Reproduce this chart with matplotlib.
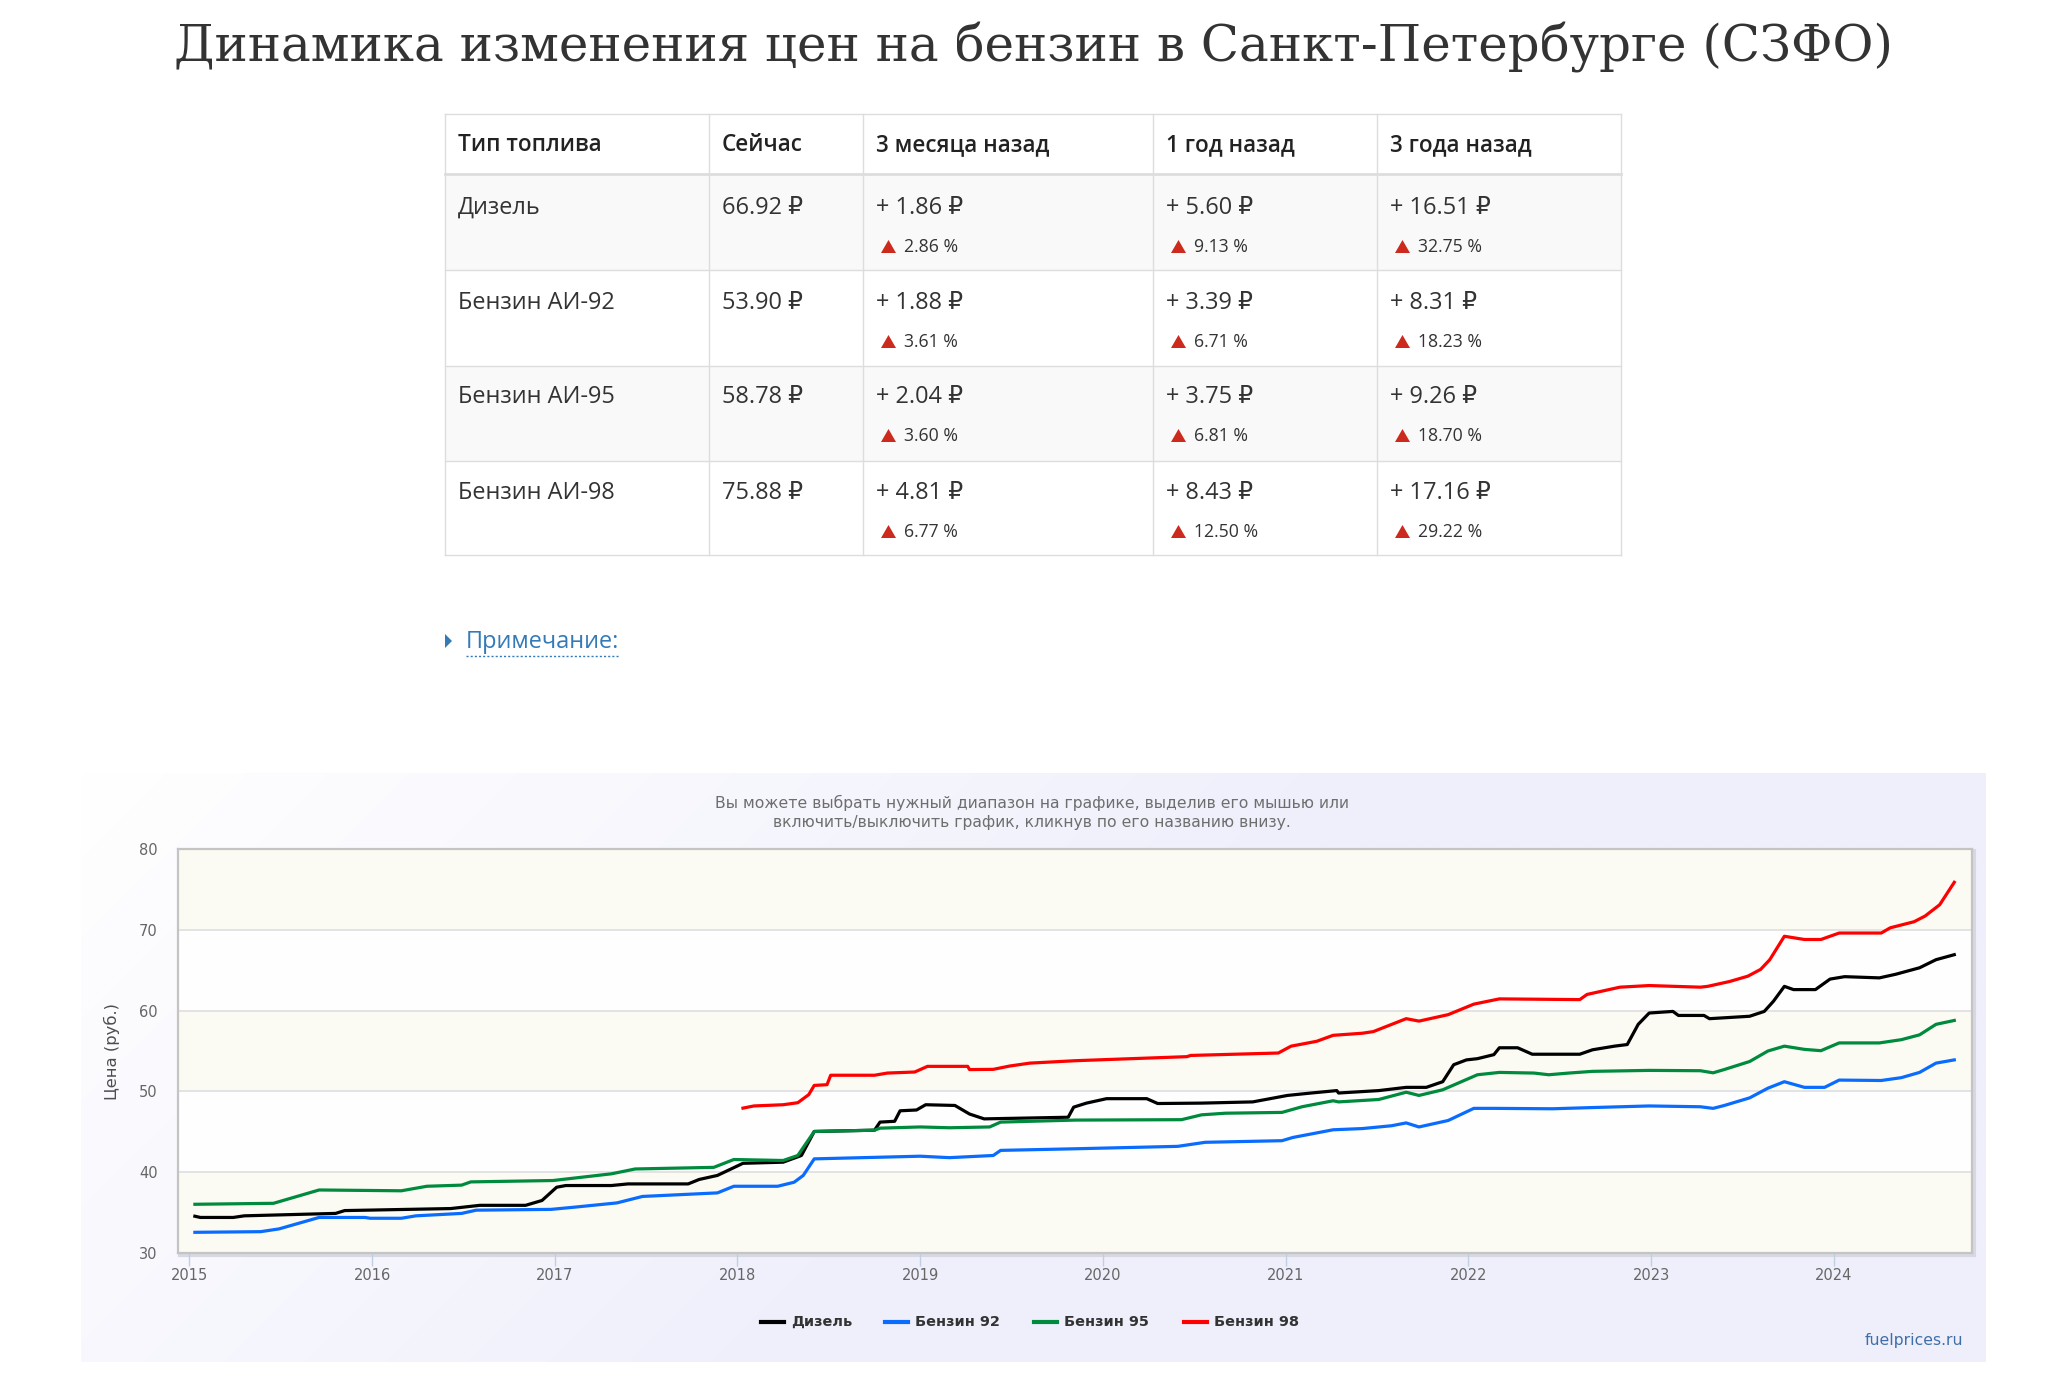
import numpy as np
import matplotlib
matplotlib.use("Agg")
import matplotlib.pyplot as plt
from matplotlib.patches import Rectangle, Polygon
from matplotlib.lines import Line2D

# ---------------- data ----------------
title = "Динамика изменения цен на бензин в Санкт-Петербурге (СЗФО)"
table_header = ["Тип топлива", "Сейчас", "3 месяца назад", "1 год назад", "3 года назад"]
fuel_types = ["Дизель", "Бензин АИ-92", "Бензин АИ-95", "Бензин АИ-98"]
price_now = [66.92, 53.90, 58.78, 75.88]
delta_3m = [1.86, 1.88, 2.04, 4.81]
pct_3m = [2.86, 3.61, 3.60, 6.77]
delta_1y = [5.60, 3.39, 3.75, 8.43]
pct_1y = [9.13, 6.71, 6.81, 12.50]
delta_3y = [16.51, 8.31, 9.26, 17.16]
pct_3y = [32.75, 18.23, 18.70, 29.22]
note_text = "Примечание:"

chart_subtitle = ["Вы можете выбрать нужный диапазон на графике, выделив его мышью или",
                  "включить/выключить график, кликнув по его названию внизу."]
y_title = "Цена (руб.)"
year_ticks = [2015, 2016, 2017, 2018, 2019, 2020, 2021, 2022, 2023, 2024]
y_ticks = [30, 40, 50, 60, 70, 80]
series_names = ["Дизель", "Бензин 92", "Бензин 95", "Бензин 98"]
credits = "fuelprices.ru"

diesel = [(2015.03, 34.55), (2015.06, 34.4), (2015.24, 34.4), (2015.30, 34.6), (2015.80, 34.9),
          (2015.85, 35.25), (2016.43, 35.5), (2016.59, 35.9), (2016.84, 35.9), (2016.93, 36.5),
          (2017.01, 38.14), (2017.06, 38.35), (2017.31, 38.35), (2017.40, 38.55), (2017.73, 38.55),
          (2017.79, 39.1), (2017.89, 39.6), (2018.03, 41.1), (2018.25, 41.24), (2018.35, 42.07),
          (2018.42, 45.04), (2018.75, 45.2), (2018.78, 46.2), (2018.86, 46.3), (2018.89, 47.6),
          (2018.98, 47.7), (2019.03, 48.35), (2019.19, 48.26), (2019.27, 47.2), (2019.35, 46.6),
          (2019.81, 46.8), (2019.84, 48.05), (2019.91, 48.55), (2020.02, 49.1), (2020.24, 49.1),
          (2020.30, 48.5), (2020.54, 48.55), (2020.82, 48.7), (2021.01, 49.5), (2021.14, 49.8),
          (2021.28, 50.1), (2021.29, 49.8), (2021.51, 50.1), (2021.66, 50.5), (2021.77, 50.5),
          (2021.86, 51.2), (2021.92, 53.3), (2021.99, 53.9), (2022.05, 54.05), (2022.14, 54.55),
          (2022.17, 55.4), (2022.27, 55.4), (2022.35, 54.6), (2022.61, 54.6), (2022.68, 55.15),
          (2022.80, 55.6), (2022.87, 55.8), (2022.93, 58.3), (2022.99, 59.7), (2023.12, 59.9),
          (2023.15, 59.4), (2023.29, 59.4), (2023.32, 59.0), (2023.54, 59.3), (2023.62, 59.9),
          (2023.67, 61.15), (2023.73, 63.0), (2023.78, 62.6), (2023.90, 62.6), (2023.98, 63.9),
          (2024.06, 64.2), (2024.25, 64.05), (2024.34, 64.5), (2024.47, 65.3), (2024.56, 66.3),
          (2024.66, 66.92)]
ai92 = [(2015.03, 32.56), (2015.39, 32.64), (2015.49, 32.98), (2015.71, 34.4), (2015.96, 34.4),
        (2015.99, 34.3), (2016.16, 34.3), (2016.24, 34.6), (2016.49, 34.9), (2016.57, 35.3),
        (2016.98, 35.4), (2017.12, 35.7), (2017.34, 36.2), (2017.48, 37.0), (2017.89, 37.44),
        (2017.98, 38.26), (2018.22, 38.26), (2018.31, 38.76), (2018.36, 39.6), (2018.42, 41.65),
        (2019.00, 41.98), (2019.16, 41.8), (2019.40, 42.07), (2019.44, 42.7), (2019.85, 42.9),
        (2020.41, 43.2), (2020.56, 43.7), (2020.98, 43.9), (2021.04, 44.3), (2021.26, 45.25),
        (2021.42, 45.4), (2021.58, 45.75), (2021.66, 46.1), (2021.73, 45.6), (2021.89, 46.4),
        (2022.03, 47.9), (2022.14, 47.9), (2022.46, 47.85), (2022.68, 48.0), (2022.99, 48.2),
        (2023.27, 48.1), (2023.34, 47.9), (2023.40, 48.25), (2023.54, 49.2), (2023.64, 50.4),
        (2023.73, 51.2), (2023.84, 50.5), (2023.95, 50.5), (2024.03, 51.4), (2024.26, 51.35),
        (2024.37, 51.7), (2024.47, 52.35), (2024.56, 53.5), (2024.66, 53.9)]
ai95 = [(2015.03, 36.03), (2015.46, 36.15), (2015.71, 37.8), (2016.16, 37.7), (2016.30, 38.26),
        (2016.49, 38.4), (2016.54, 38.8), (2016.99, 38.97), (2017.31, 39.8), (2017.44, 40.4),
        (2017.87, 40.6), (2017.98, 41.57), (2018.25, 41.45), (2018.33, 42.07), (2018.42, 45.04),
        (2018.75, 45.2), (2018.78, 45.45), (2019.00, 45.6), (2019.16, 45.5), (2019.38, 45.6),
        (2019.44, 46.2), (2019.85, 46.45), (2020.43, 46.5), (2020.54, 47.1), (2020.67, 47.3),
        (2020.98, 47.4), (2021.09, 48.1), (2021.26, 48.84), (2021.29, 48.7), (2021.51, 49.0),
        (2021.61, 49.6), (2021.66, 49.9), (2021.73, 49.5), (2021.86, 50.2), (2022.05, 52.06),
        (2022.17, 52.35), (2022.36, 52.27), (2022.44, 52.06), (2022.55, 52.27), (2022.68, 52.48),
        (2022.99, 52.6), (2023.27, 52.56), (2023.34, 52.3), (2023.40, 52.7), (2023.54, 53.7),
        (2023.64, 55.0), (2023.73, 55.6), (2023.84, 55.2), (2023.93, 55.04), (2024.03, 56.0),
        (2024.25, 56.0), (2024.37, 56.4), (2024.47, 57.0), (2024.56, 58.3), (2024.66, 58.78)]
ai98 = [(2018.03, 47.93), (2018.09, 48.2), (2018.25, 48.35), (2018.33, 48.6), (2018.39, 49.6),
        (2018.42, 50.74), (2018.49, 50.83), (2018.51, 52.0), (2018.75, 52.0), (2018.82, 52.27),
        (2018.97, 52.4), (2019.04, 53.1), (2019.26, 53.1), (2019.27, 52.7), (2019.40, 52.73),
        (2019.49, 53.14), (2019.60, 53.5), (2019.85, 53.8), (2020.46, 54.3), (2020.48, 54.45),
        (2020.96, 54.75), (2021.03, 55.6), (2021.17, 56.2), (2021.26, 56.94), (2021.42, 57.2),
        (2021.48, 57.4), (2021.66, 59.0), (2021.73, 58.7), (2021.89, 59.5), (2022.03, 60.8),
        (2022.17, 61.45), (2022.61, 61.36), (2022.65, 62.0), (2022.83, 62.9), (2022.99, 63.1),
        (2023.27, 62.9), (2023.31, 63.0), (2023.43, 63.6), (2023.53, 64.26), (2023.60, 65.1),
        (2023.65, 66.3), (2023.73, 69.2), (2023.84, 68.8), (2023.93, 68.8), (2024.03, 69.6),
        (2024.26, 69.6), (2024.31, 70.25), (2024.44, 71.0), (2024.50, 71.7), (2024.58, 73.1),
        (2024.66, 75.88)]
series_data = [diesel, ai92, ai95, ai98]
series_colors = ["#000000", "#0a6cff", "#008a3e", "#ff0000"]

# ---------------- figure ----------------
W, H = 2048, 1382
fig = plt.figure(figsize=(W / 100, H / 100), dpi=100)
fig.patch.set_facecolor("white")
cv = fig.add_axes([0, 0, 1, 1], zorder=0)
cv.set_xlim(0, W)
cv.set_ylim(H, 0)
cv.axis("off")
renderer = fig.canvas.get_renderer()

SANS = ["Open Sans", "DejaVu Sans"]


def fitted_size(s, target_w, family, weight="normal"):
    t = cv.text(0, 0, s, fontsize=20, family=family, weight=weight)
    w = t.get_window_extent(renderer).width
    t.remove()
    return 20 * target_w / w


# ---- title ----
fs = fitted_size(title, 1719, ["DejaVu Serif"])
cv.text(1033, 61, title, fontsize=fs, family=["DejaVu Serif"], color="#333333",
        ha="center", va="baseline")

# ---- table ----
col_x = [445, 709, 863, 1153, 1377, 1621]
row_y = [114, 174, 270, 366, 461, 555]
for i in range(4):
    if i % 2 == 0:
        cv.add_patch(Rectangle((col_x[0], row_y[i + 1]), col_x[-1] - col_x[0],
                               row_y[i + 2] - row_y[i + 1], facecolor="#f9f9f9",
                               edgecolor="none", zorder=1))
border = "#dddddd"
for x in col_x:
    cv.plot([x, x], [row_y[0], row_y[-1]], color=border, lw=1.0, zorder=2)
for j, y in enumerate(row_y):
    cv.plot([col_x[0], col_x[-1]], [y, y], color=border, lw=2.0 if j == 1 else 1.0, zorder=2)

fs_head = fitted_size(table_header[0], 143, SANS, "semibold")
fs_main = fitted_size(fuel_types[1], 157, SANS)
fs_sub = fitted_size("2.86 %", 54, SANS)
pad = 13
for k, h in enumerate(table_header):
    cv.text(col_x[k] + pad, 145, h, fontsize=fs_head, family=SANS, weight="semibold",
            color="#222222", va="center", zorder=3)
main_y = [208, 303, 397, 493]
sub_y = [247, 342, 436, 532]
for i in range(4):
    cv.text(col_x[0] + pad, main_y[i], fuel_types[i], fontsize=fs_main, family=SANS,
            color="#333333", va="center", zorder=3)
    cv.text(col_x[1] + pad, main_y[i], f"{price_now[i]:.2f} ₽", fontsize=fs_main,
            family=SANS, color="#333333", va="center", zorder=3)
    for k, (d, p) in enumerate([(delta_3m[i], pct_3m[i]), (delta_1y[i], pct_1y[i]),
                                (delta_3y[i], pct_3y[i])]):
        x0 = col_x[k + 2] + pad
        cv.text(x0, main_y[i], f"+ {d:.2f} ₽", fontsize=fs_main, family=SANS,
                color="#333333", va="center", zorder=3)
        ty = sub_y[i]
        cv.add_patch(Polygon([[x0 + 5, ty + 6], [x0 + 20, ty + 6], [x0 + 12.5, ty - 7]],
                             closed=True, facecolor="#cc2a1d", edgecolor="none", zorder=3))
        cv.text(x0 + 28, ty, f"{p:.2f} %", fontsize=fs_sub, family=SANS,
                color="#333333", va="center", zorder=3)

# ---- note ----
cv.add_patch(Polygon([[445, 634], [445, 648], [452, 641]], closed=True,
                     facecolor="#337ab7", edgecolor="none"))
fs_note = fitted_size(note_text, 153, SANS)
cv.text(466, 642, note_text, fontsize=fs_note, family=SANS, color="#337ab7", va="center")
cv.plot([466, 619], [656, 656], color="#337ab7", lw=1.0, ls=(0, (1.5, 1.5)))

# ---- chart background panel (gradient) ----
px0, px1, py0, py1 = 81, 1986, 773, 1362
gx = np.linspace(0, px1 - px0, 400)
gy = np.linspace(0, py1 - py0, 150)
GX, GY = np.meshgrid(gx, gy)
t = np.clip((GX + GY) / 1300.0, 0, 1)[..., None]
c0 = np.array([255, 255, 255]) / 255.0
c1 = np.array([239, 239, 252]) / 255.0
img = c0 * (1 - t) + c1 * t
cv.imshow(img, extent=[px0, px1, py1, py0], aspect="auto", zorder=0.5, interpolation="bilinear")
cv.set_xlim(0, W)
cv.set_ylim(H, 0)

fs_subt = fitted_size(chart_subtitle[0], 633, ["DejaVu Sans"])
cv.text(1032, 803, chart_subtitle[0], fontsize=fs_subt, family=["DejaVu Sans"],
        color="#6e6e6e", ha="center", va="center")
cv.text(1032, 822, chart_subtitle[1], fontsize=fs_subt, family=["DejaVu Sans"],
        color="#6e6e6e", ha="center", va="center")

fs_yt = fitted_size(y_title, 97, ["DejaVu Sans"])
cv.text(112, 1051, y_title, fontsize=fs_yt, family=["DejaVu Sans"], color="#4d4d4d",
        rotation=90, ha="center", va="center")

# shadow for plot area
cv.add_patch(Rectangle((180, 851), 1972 - 177.6, 1253 - 849, facecolor="none",
                       edgecolor="#d8d8e2", lw=3, zorder=0.8))

# ---- chart axes ----
L, R, T, B = 177.6, 1972, 849, 1253
ax = fig.add_axes([L / W, 1 - B / H, (R - L) / W, (B - T) / H], zorder=2)
x_left = 2015 + (L - 189.4) / 182.7
x_right = 2015 + (R - 189.4) / 182.7
ax.set_xlim(x_left, x_right)
ax.set_ylim(30, 80)
ax.set_facecolor("none")
for k in range(len(y_ticks) - 1):
    col = "#fbfbf3" if k % 2 == 0 else "#fefefe"
    ax.axhspan(y_ticks[k], y_ticks[k + 1], facecolor=col, edgecolor="none", zorder=0)
for yv in y_ticks[1:-1]:
    ax.axhline(yv, color="#e3e3e3", lw=1.4, zorder=0.5)

for data, color, name in zip(series_data, series_colors, series_names):
    xs = [p[0] for p in data]
    ys = [p[1] for p in data]
    ax.plot(xs, ys, color=color, lw=2.3, solid_joinstyle="round", zorder=3, label=name)

ax.set_xticks(year_ticks)
ax.set_xticklabels([str(y) for y in year_ticks])
ax.set_yticks(y_ticks)
ax.set_yticklabels([str(y) for y in y_ticks])
ax.tick_params(axis="x", length=9, width=1, color="#c0d0e0", pad=1.5,
               labelsize=10.5, labelcolor="#666666")
ax.tick_params(axis="y", length=0, pad=14.5, labelsize=10.5, labelcolor="#666666")
for sp in ax.spines.values():
    sp.set_color("#c4c4c4")
    sp.set_linewidth(1.6)

# ---- legend (manual) ----
leg_lines = [761, 885, 1034, 1184]
fs_leg = fitted_size(series_names[0], 61, ["DejaVu Sans"], "bold")
for lx, color, name in zip(leg_lines, series_colors, series_names):
    cv.plot([lx, lx + 23], [1322, 1322], color=color, lw=3.0, zorder=3)
    cv.text(lx + 30, 1322, name, fontsize=fs_leg, family=["DejaVu Sans"], weight="bold",
            color="#333333", va="center", zorder=3)

fs_cr = fitted_size(credits, 98, ["DejaVu Sans"])
cv.text(1963, 1341, credits, fontsize=fs_cr, family=["DejaVu Sans"], color="#3f6fa8",
        ha="right", va="center", zorder=3)

fig.savefig("out.png", dpi=100, facecolor="white")
